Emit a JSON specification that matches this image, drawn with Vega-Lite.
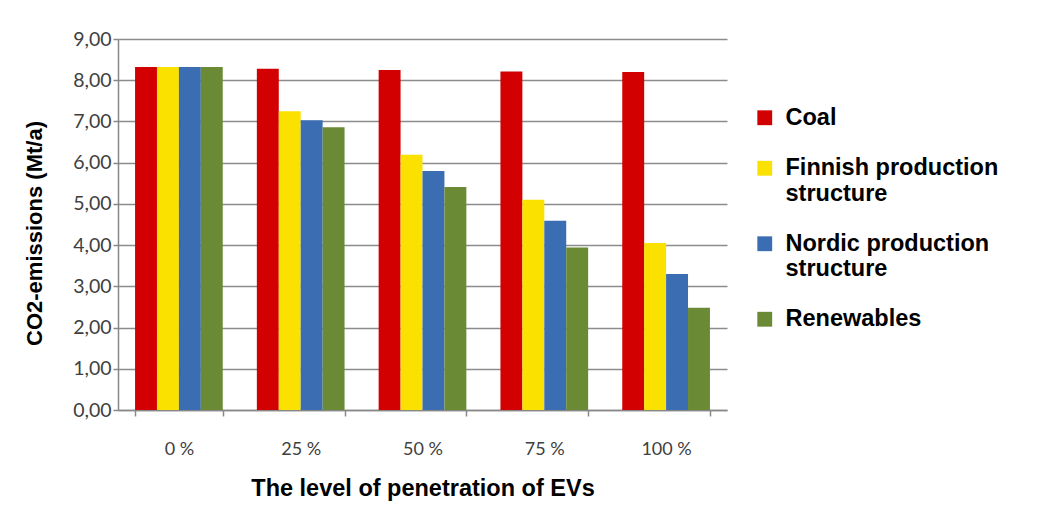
{
  "$schema": "https://vega.github.io/schema/vega-lite/v6.json",
  "width": 609,
  "height": 371,
  "autosize": {"type": "none"},
  "padding": {"left": 118, "top": 39, "right": 332, "bottom": 106},
  "background": "white",
  "data": {
    "values": [
      {"level": "0 %", "source": "Coal", "value": 8.32},
      {"level": "0 %", "source": "Finnish production structure", "value": 8.32},
      {"level": "0 %", "source": "Nordic production structure", "value": 8.32},
      {"level": "0 %", "source": "Renewables", "value": 8.32},
      {"level": "25 %", "source": "Coal", "value": 8.28},
      {"level": "25 %", "source": "Finnish production structure", "value": 7.25},
      {"level": "25 %", "source": "Nordic production structure", "value": 7.03},
      {"level": "25 %", "source": "Renewables", "value": 6.86},
      {"level": "50 %", "source": "Coal", "value": 8.25},
      {"level": "50 %", "source": "Finnish production structure", "value": 6.19},
      {"level": "50 %", "source": "Nordic production structure", "value": 5.8},
      {"level": "50 %", "source": "Renewables", "value": 5.41},
      {"level": "75 %", "source": "Coal", "value": 8.21},
      {"level": "75 %", "source": "Finnish production structure", "value": 5.1},
      {"level": "75 %", "source": "Nordic production structure", "value": 4.59},
      {"level": "75 %", "source": "Renewables", "value": 3.94},
      {"level": "100 %", "source": "Coal", "value": 8.2},
      {"level": "100 %", "source": "Finnish production structure", "value": 4.05},
      {"level": "100 %", "source": "Nordic production structure", "value": 3.3},
      {"level": "100 %", "source": "Renewables", "value": 2.48}
    ]
  },
  "mark": {"type": "bar"},
  "encoding": {
    "x": {
      "field": "level",
      "type": "nominal",
      "sort": ["0 %", "25 %", "50 %", "75 %", "100 %"],
      "scale": {"paddingInner": 0.28, "paddingOuter": 0.14},
      "axis": {
        "title": "The level of penetration of EVs",
        "titleFont": "Liberation Sans",
        "titleFontSize": 23.5,
        "titleFontWeight": "bold",
        "titleColor": "#000000",
        "titleX": 304.5,
        "titleY": 85,
        "titleBaseline": "alphabetic",
        "titleAnchor": "middle",
        "labelAngle": 0,
        "labelFont": "Lato",
        "labelFontSize": 18,
        "labelColor": "#404040",
        "labelPadding": 24,
        "tickBand": "extent",
        "tickSize": 6,
        "tickColor": "#888888",
        "domainColor": "#888888",
        "domainWidth": 1.5,
        "tickWidth": 1.5
      }
    },
    "xOffset": {
      "field": "source",
      "type": "nominal",
      "sort": ["Coal", "Finnish production structure", "Nordic production structure", "Renewables"],
      "scale": {"paddingInner": 0, "paddingOuter": 0}
    },
    "y": {
      "field": "value",
      "type": "quantitative",
      "scale": {"domain": [0, 9], "nice": false},
      "axis": {
        "title": "CO2-emissions (Mt/a)",
        "titleFont": "Liberation Sans",
        "titleFontSize": 22,
        "titleFontWeight": "bold",
        "titleColor": "#000000",
        "titleX": -72,
        "titleY": 194,
        "values": [0, 1, 2, 3, 4, 5, 6, 7, 8, 9],
        "labelExpr": "replace(format(datum.value, '.2f'), '.', ',')",
        "labelFont": "Lato",
        "labelFontSize": 19.5,
        "labelColor": "#404040",
        "labelPadding": 2,
        "tickSize": 5,
        "tickColor": "#888888",
        "tickWidth": 1.5,
        "domainColor": "#888888",
        "domainWidth": 1.5,
        "grid": true,
        "gridColor": "#8c8c8c",
        "gridWidth": 1.5
      }
    },
    "color": {
      "field": "source",
      "type": "nominal",
      "sort": ["Coal", "Finnish production structure", "Nordic production structure", "Renewables"],
      "scale": {
        "domain": ["Coal", "Finnish production structure", "Nordic production structure", "Renewables"],
        "range": ["#d20000", "#fbe100", "#3b6db3", "#6a8a35"]
      },
      "legend": {
        "title": null,
        "orient": "none",
        "legendX": 635,
        "legendY": 67,
        "padding": 0,
        "symbolType": "square",
        "symbolSize": 220,
        "symbolStrokeWidth": 0,
        "labelFont": "Liberation Sans",
        "labelFontSize": 23.5,
        "labelFontWeight": "bold",
        "labelColor": "#000000",
        "labelOffset": 9,
        "labelLimit": 320,
        "rowPadding": 25.5,
        "labelExpr": "datum.label == 'Finnish production structure' ? ['Finnish production', 'structure'] : datum.label == 'Nordic production structure' ? ['Nordic production', 'structure'] : datum.label"
      }
    }
  },
  "config": {
    "view": {"stroke": null}
  }
}
